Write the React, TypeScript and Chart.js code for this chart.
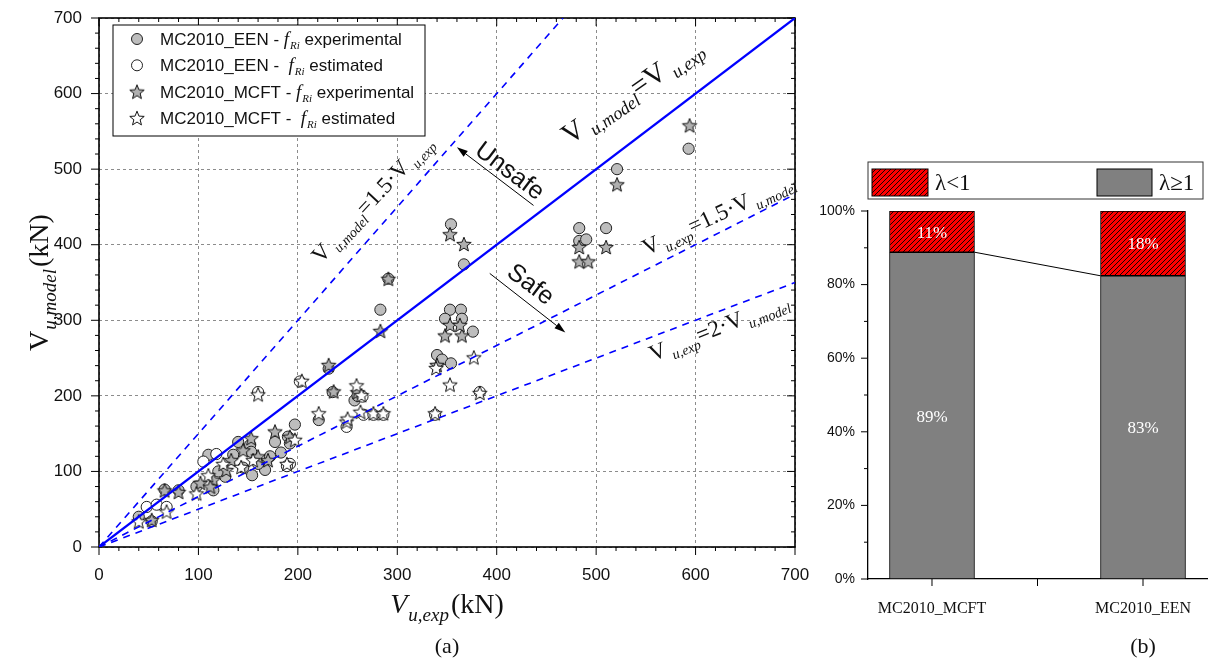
import React, { useEffect, useRef } from 'react';
import { Chart, registerables } from 'chart.js';

Chart.register(...registerables);

const SANS = '"Liberation Sans", Arial, sans-serif';
const SERIF = '"Liberation Serif", "Times New Roman", serif';

// ---------- Panel (a) data: [V_u,exp (kN), V_u,model (kN)] ----------
const EEN_EXPERIMENTAL: number[][] = [
  [593, 527], [521, 500], [510, 422], [483, 422], [483, 405], [490, 407], [354, 427], [367, 374],
  [283, 314], [291, 355], [353, 314], [364, 314], [348, 302], [365, 302], [376, 285], [340, 254],
  [345, 248], [354, 243], [235, 205], [257, 194], [260, 200], [197, 162], [221, 168], [231, 236],
  [190, 146], [177, 139], [192, 137], [152, 135], [140, 139], [153, 126], [110, 122], [127, 93],
  [154, 95], [167, 102], [98, 80], [115, 75], [80, 75], [66, 76], [40, 40], [53, 34], [160, 110],
  [135, 122], [145, 105], [120, 100], [172, 120], [183, 125],
];
const EEN_ESTIMATED: number[][] = [
  [160, 205], [249, 159], [338, 175], [383, 205], [266, 175], [276, 175], [286, 175], [202, 219],
  [192, 110], [105, 113], [118, 123], [48, 53], [58, 56], [68, 53], [265, 199], [189, 107],
];
const MCFT_EXPERIMENTAL: number[][] = [
  [594, 558], [521, 480], [510, 397], [483, 397], [483, 378], [492, 378], [353, 414], [367, 401],
  [291, 355], [283, 286], [348, 280], [365, 280], [353, 294], [363, 294], [340, 241], [231, 241],
  [236, 206], [153, 144], [177, 153], [192, 146], [133, 115], [128, 102], [115, 89], [80, 73],
  [66, 75], [53, 36], [145, 128], [160, 120], [102, 85], [112, 80], [170, 115], [260, 205],
];
const MCFT_ESTIMATED: number[][] = [
  [377, 251], [353, 215], [383, 204], [338, 177], [339, 237], [259, 214], [264, 201], [263, 179],
  [276, 177], [286, 177], [249, 166], [221, 177], [204, 220], [160, 202], [189, 110], [197, 142],
  [143, 106], [155, 115], [98, 71], [40, 34], [68, 47], [110, 95], [125, 110], [250, 170],
];

const AXIS_MIN = 0;
const AXIS_MAX = 700;
const MAJOR_STEP = 100;
const MINOR_STEP = 20;

// reference lines (end points)
const LINE_EQUAL: number[][] = [[0, 0], [700, 700]];
const LINE_MODEL_15: number[][] = [[0, 0], [466.7, 700]];
const LINE_EXP_15: number[][] = [[0, 0], [700, 466.7]];
const LINE_EXP_2: number[][] = [[0, 0], [700, 350]];

// ---------- Panel (b) data ----------
const BAR_CATEGORIES = ['MC2010_MCFT', 'MC2010_EEN'];
const SHARE_LAMBDA_GE1 = [88.8, 82.4];
const SHARE_LAMBDA_LT1 = [11.2, 17.6];
const LABEL_GE1 = ['89%', '83%'];
const LABEL_LT1 = ['11%', '18%'];
const PCT_MAX = 100;
const PCT_STEP = 20;
const PCT_MINOR = 10;

// ---------- helpers ----------
type Seg = { t: string; size: number; italic?: boolean; fam?: string; dy?: number; dx?: number };
const segFont = (s: Seg) => `${s.italic ? 'italic ' : ''}${s.size}px ${s.fam || SERIF}`;

function drawRich(ctx: CanvasRenderingContext2D, segs: Seg[], x: number, y: number, deg: number, align: 'center' | 'left' = 'center') {
  ctx.save();
  ctx.translate(x, y);
  ctx.rotate((deg * Math.PI) / 180);
  ctx.textAlign = 'left';
  ctx.textBaseline = 'alphabetic';
  let total = 0;
  for (const s of segs) {
    ctx.font = segFont(s);
    total += (s.dx || 0) + ctx.measureText(s.t).width;
  }
  let cx = align === 'center' ? -total / 2 : 0;
  for (const s of segs) {
    ctx.font = segFont(s);
    cx += s.dx || 0;
    ctx.fillText(s.t, cx, s.dy || 0);
    cx += ctx.measureText(s.t).width;
  }
  ctx.restore();
}

function seg(ctx: CanvasRenderingContext2D, x1: number, y1: number, x2: number, y2: number) {
  ctx.beginPath();
  ctx.moveTo(x1, y1);
  ctx.lineTo(x2, y2);
  ctx.stroke();
}

function arrow(ctx: CanvasRenderingContext2D, x1: number, y1: number, x2: number, y2: number) {
  ctx.save();
  ctx.strokeStyle = '#000';
  ctx.fillStyle = '#000';
  ctx.lineWidth = 1;
  const a = Math.atan2(y2 - y1, x2 - x1);
  const hl = 11;
  const hw = 3.5;
  const bx = x2 - hl * Math.cos(a);
  const by = y2 - hl * Math.sin(a);
  seg(ctx, x1, y1, bx, by);
  ctx.beginPath();
  ctx.moveTo(x2, y2);
  ctx.lineTo(bx + hw * Math.sin(a), by - hw * Math.cos(a));
  ctx.lineTo(bx - hw * Math.sin(a), by + hw * Math.cos(a));
  ctx.closePath();
  ctx.fill();
  ctx.restore();
}

function makeStar(fill: string) {
  const size = 18;
  const outer = 7.6;
  const inner = 3.3;
  const c = document.createElement('canvas');
  c.width = size;
  c.height = size;
  const g = c.getContext('2d')!;
  g.beginPath();
  for (let i = 0; i < 10; i++) {
    const r = i % 2 === 0 ? outer : inner;
    const a = -Math.PI / 2 + (i * Math.PI) / 5;
    const px = size / 2 + r * Math.cos(a);
    const py = size / 2 + 0.8 + r * Math.sin(a);
    if (i === 0) g.moveTo(px, py);
    else g.lineTo(px, py);
  }
  g.closePath();
  g.fillStyle = fill;
  g.fill();
  g.lineWidth = 1;
  g.strokeStyle = '#111';
  g.stroke();
  return c;
}

const toXY = (arr: number[][]) => arr.map(([x, y]) => ({ x, y }));

const GREY = '#bdbdbd';

export default function App() {
  const leftRef = useRef<HTMLCanvasElement>(null);
  const rightRef = useRef<HTMLCanvasElement>(null);

  useEffect(() => {
    document.body.style.margin = '0';
    const starGrey = makeStar('#b0b0b0');
    const starWhite = makeStar('#ffffff');

    // -------- left chart plugin --------
    const leftDeco = {
      id: 'leftDeco',
      beforeDatasetsDraw(chart: any) {
        const { ctx, chartArea: a, scales } = chart;
        const x = scales.x;
        const y = scales.y;
        ctx.save();
        ctx.strokeStyle = '#000';
        ctx.lineWidth = 1;
        for (let v = AXIS_MIN; v <= AXIS_MAX; v += MINOR_STEP) {
          const len = v % MAJOR_STEP === 0 ? 8 : 4;
          const px = x.getPixelForValue(v);
          seg(ctx, px, a.bottom, px, a.bottom + len);
          seg(ctx, px, a.top, px, a.top + len);
          const py = y.getPixelForValue(v);
          seg(ctx, a.left - len, py, a.left, py);
          seg(ctx, a.right - len, py, a.right, py);
        }
        ctx.lineWidth = 1.6;
        ctx.strokeRect(a.left, a.top, a.right - a.left, a.bottom - a.top);
        ctx.restore();
      },
      afterDatasetsDraw(chart: any) {
        const { ctx, chartArea: a, scales } = chart;
        const X = (v: number) => scales.x.getPixelForValue(v);
        const Y = (v: number) => scales.y.getPixelForValue(v);
        ctx.save();
        ctx.fillStyle = '#111';
        // line labels
        drawRich(ctx, [
          { t: 'V', size: 29 },
          { t: 'u,model', size: 18, italic: true, dy: 7, dx: 5 },
          { t: '=V', size: 29 },
          { t: 'u,exp', size: 18, italic: true, dy: 7, dx: 5 },
        ], X(541), Y(594), -35);
        drawRich(ctx, [
          { t: 'V', size: 23 },
          { t: 'u,model', size: 14, italic: true, dy: 6, dx: 4 },
          { t: '=1.5·V', size: 23 },
          { t: 'u,exp', size: 14, italic: true, dy: 6, dx: 4 },
        ], X(280), Y(454), -47);
        drawRich(ctx, [
          { t: 'V', size: 23 },
          { t: 'u,exp', size: 14, italic: true, dy: 6, dx: 4 },
          { t: '=1.5·V', size: 23 },
          { t: 'u,model', size: 14, italic: true, dy: 6, dx: 4 },
        ], X(626), Y(432), -25);
        drawRich(ctx, [
          { t: 'V', size: 23 },
          { t: 'u,exp', size: 14, italic: true, dy: 6, dx: 4 },
          { t: '=2·V', size: 23 },
          { t: 'u,model', size: 14, italic: true, dy: 6, dx: 4 },
        ], X(626), Y(282), -22);
        // safe / unsafe
        drawRich(ctx, [{ t: 'Unsafe', size: 25, fam: SANS, dy: 9 }], X(414), Y(499), 37);
        drawRich(ctx, [{ t: 'Safe', size: 25, fam: SANS, dy: 9 }], X(435), Y(349), 37);
        arrow(ctx, X(437), Y(452), X(360), Y(529));
        arrow(ctx, X(393), Y(362), X(469), Y(284));

        // legend
        const lx = a.left + 14;
        const ly = a.top + 7;
        const lw = 312;
        const lh = 111;
        ctx.fillStyle = '#fff';
        ctx.fillRect(lx, ly, lw, lh);
        ctx.strokeStyle = '#000';
        ctx.lineWidth = 1;
        ctx.strokeRect(lx, ly, lw, lh);
        const rows = [
          { m: 'cg', name: 'MC2010_EEN - ', tail: ' experimental' },
          { m: 'cw', name: 'MC2010_EEN -  ', tail: ' estimated' },
          { m: 'sg', name: 'MC2010_MCFT - ', tail: ' experimental' },
          { m: 'sw', name: 'MC2010_MCFT -  ', tail: ' estimated' },
        ];
        rows.forEach((r, i) => {
          const cy = ly + 14 + i * 26.3;
          const mx = lx + 24;
          if (r.m[0] === 'c') {
            ctx.beginPath();
            ctx.arc(mx, cy, 5.5, 0, Math.PI * 2);
            ctx.fillStyle = r.m === 'cg' ? GREY : '#fff';
            ctx.fill();
            ctx.strokeStyle = '#222';
            ctx.stroke();
          } else {
            const img = r.m === 'sg' ? starGrey : starWhite;
            ctx.drawImage(img, mx - img.width / 2, cy - img.height / 2);
          }
          ctx.fillStyle = '#111';
          drawRich(ctx, [
            { t: r.name, size: 17, fam: SANS },
            { t: 'f', size: 19, italic: true },
            { t: 'Ri', size: 11, italic: true, dy: 4, dx: 1 },
            { t: r.tail, size: 17, fam: SANS },
          ], lx + 47, cy + 6, 0, 'left');
        });
        ctx.restore();
      },
      afterDraw(chart: any) {
        const { ctx, chartArea: a } = chart;
        ctx.save();
        ctx.fillStyle = '#111';
        const midX = (a.left + a.right) / 2;
        const midY = (a.top + a.bottom) / 2;
        drawRich(ctx, [
          { t: 'V', size: 28, italic: true },
          { t: 'u,exp', size: 19, italic: true, dy: 8, dx: 1 },
          { t: '(kN)', size: 28, dx: 2 },
        ], midX, a.bottom + 66, 0);
        drawRich(ctx, [
          { t: 'V', size: 28 },
          { t: 'u,model', size: 19, italic: true, dy: 8, dx: 1 },
          { t: '(kN)', size: 28, dx: 2 },
        ], 48, midY, -90);
        drawRich(ctx, [{ t: '(a)', size: 22 }], midX, a.bottom + 106, 0);
        ctx.restore();
      },
    };

    const lineDs = (pts: number[][], dashed: boolean) => ({
      data: toXY(pts),
      showLine: true,
      pointRadius: 0,
      borderColor: '#0000ff',
      borderWidth: dashed ? 1.6 : 2.2,
      borderDash: dashed ? [7, 6] : [],
      fill: false,
      order: 0,
    });

    const axisCommon = (isX: boolean) => ({
      type: 'linear' as const,
      min: AXIS_MIN,
      max: AXIS_MAX,
      ticks: {
        stepSize: MAJOR_STEP,
        font: { family: SANS, size: 17 },
        color: '#111',
        padding: isX ? 18 : 17,
        maxRotation: 0,
      },
      grid: { color: '#8c8c8c', drawTicks: false, lineWidth: 1 },
      border: { display: false, dash: [3, 3] },
      afterFit: (s: any) => {
        if (isX) s.height = 112;
        else s.width = 99;
        s.paddingLeft = 0;
        s.paddingRight = 0;
        s.paddingTop = 0;
        s.paddingBottom = 0;
      },
    });

    const left = new Chart(leftRef.current!, {
      type: 'scatter',
      data: {
        datasets: [
          lineDs(LINE_EQUAL, false),
          lineDs(LINE_MODEL_15, true),
          lineDs(LINE_EXP_15, true),
          lineDs(LINE_EXP_2, true),
          { data: toXY(MCFT_ESTIMATED), pointStyle: starWhite, pointRadius: 8, order: 1 },
          { data: toXY(MCFT_EXPERIMENTAL), pointStyle: starGrey, pointRadius: 8, order: 2 },
          { data: toXY(EEN_ESTIMATED), pointStyle: 'circle', pointRadius: 5.6, backgroundColor: '#fff', borderColor: '#222', borderWidth: 1, order: 3 },
          { data: toXY(EEN_EXPERIMENTAL), pointStyle: 'circle', pointRadius: 5.6, backgroundColor: GREY, borderColor: '#222', borderWidth: 1, order: 4 },
        ] as any,
      },
      options: {
        responsive: false,
        animation: false,
        layout: { padding: { left: 0, right: 15, top: 18, bottom: 0 } },
        plugins: { legend: { display: false }, tooltip: { enabled: false } },
        scales: { x: axisCommon(true), y: axisCommon(false) } as any,
      },
      plugins: [leftDeco],
    });

    // -------- right chart --------
    const rctx = rightRef.current!.getContext('2d')!;
    const tile = document.createElement('canvas');
    tile.width = 5;
    tile.height = 5;
    const tg = tile.getContext('2d')!;
    tg.fillStyle = '#ff0000';
    tg.fillRect(0, 0, 5, 5);
    tg.strokeStyle = '#000';
    tg.lineWidth = 0.9;
    tg.beginPath();
    tg.moveTo(0, 5); tg.lineTo(5, 0);
    tg.moveTo(-1, 1); tg.lineTo(1, -1);
    tg.moveTo(4, 6); tg.lineTo(6, 4);
    tg.stroke();
    const hatch = rctx.createPattern(tile, 'repeat')!;

    const catIdx = BAR_CATEGORIES.map((_, i) => i);
    const X_PAD = 0.3033;

    const rightDeco = {
      id: 'rightDeco',
      afterDatasetsDraw(chart: any) {
        const { ctx, chartArea: a, scales } = chart;
        const x = scales.x;
        const y = scales.y;
        ctx.save();
        const m0 = chart.getDatasetMeta(0).data;
        const m1 = chart.getDatasetMeta(1).data;
        // connector line
        ctx.strokeStyle = '#000';
        ctx.lineWidth = 1;
        seg(ctx, m0[0].x + m0[0].width / 2, m0[0].y, m0[1].x - m0[1].width / 2, m0[1].y);
        // value labels
        ctx.fillStyle = '#fff';
        m0.forEach((el: any, i: number) => {
          drawRich(ctx, [{ t: LABEL_GE1[i], size: 17 }], el.x, (el.y + el.base) / 2 + 6, 0);
        });
        m1.forEach((el: any, i: number) => {
          drawRich(ctx, [{ t: LABEL_LT1[i], size: 17 }], el.x, (el.y + el.base) / 2 + 6, 0);
        });
        // ticks
        ctx.strokeStyle = '#000';
        for (let v = 0; v <= PCT_MAX; v += PCT_MINOR) {
          const len = v % PCT_STEP === 0 ? 7 : 4;
          const py = y.getPixelForValue(v);
          seg(ctx, a.left - len, py, a.left, py);
        }
        const xt = [...catIdx, (catIdx[0] + catIdx[1]) / 2];
        xt.forEach((v) => {
          const px = x.getPixelForValue(v);
          seg(ctx, px, a.bottom, px, a.bottom + 7);
        });
        // legend
        const lx = a.left;
        const ly = a.top - 49;
        ctx.fillStyle = '#fff';
        ctx.fillRect(lx, ly, 335, 37);
        ctx.strokeStyle = '#333';
        ctx.strokeRect(lx, ly, 335, 37);
        ctx.fillStyle = hatch;
        ctx.fillRect(lx + 4, ly + 7, 56, 27);
        ctx.strokeStyle = '#000';
        ctx.strokeRect(lx + 4, ly + 7, 56, 27);
        ctx.fillStyle = '#808080';
        ctx.fillRect(lx + 229, ly + 7, 55, 27);
        ctx.strokeRect(lx + 229, ly + 7, 55, 27);
        ctx.fillStyle = '#111';
        drawRich(ctx, [{ t: 'λ<1', size: 23 }], lx + 67, ly + 28, 0, 'left');
        drawRich(ctx, [{ t: 'λ≥1', size: 23 }], lx + 291, ly + 28, 0, 'left');
        // (b)
        drawRich(ctx, [{ t: '(b)', size: 22 }], x.getPixelForValue(catIdx[1]), a.bottom + 74, 0);
        ctx.restore();
      },
    };

    const right = new Chart(rightRef.current!, {
      type: 'bar',
      data: {
        datasets: [
          {
            data: catIdx.map((i) => ({ x: i, y: SHARE_LAMBDA_GE1[i] })),
            backgroundColor: '#808080',
            borderColor: '#000',
            borderWidth: 1,
            borderSkipped: false,
            barThickness: 85,
          },
          {
            data: catIdx.map((i) => ({ x: i, y: SHARE_LAMBDA_LT1[i] })),
            backgroundColor: hatch,
            borderColor: '#000',
            borderWidth: 1,
            borderSkipped: false,
            barThickness: 85,
          },
        ] as any,
      },
      options: {
        responsive: false,
        animation: false,
        layout: { padding: { left: 0, right: 11, top: 211, bottom: 0 } },
        plugins: { legend: { display: false }, tooltip: { enabled: false } },
        scales: {
          x: {
            type: 'linear',
            stacked: true,
            offset: false,
            bounds: 'data',
            grace: 0,
            min: catIdx[0] - X_PAD,
            max: catIdx[catIdx.length - 1] + X_PAD,
            afterBuildTicks: (s: any) => {
              s.ticks = catIdx.map((v) => ({ value: v }));
            },
            ticks: {
              callback: (v: any) => BAR_CATEGORIES[Math.round(Number(v))] ?? '',
              font: { family: SERIF, size: 16 },
              color: '#111',
              padding: 20,
              maxRotation: 0,
              autoSkip: false,
            },
            grid: { display: false, drawTicks: false, offset: false },
            border: { display: true, color: '#000', width: 1.3 },
            afterFit: (s: any) => {
              s.height = 80;
              s.paddingLeft = 0;
              s.paddingRight = 0;
            },
          },
          y: {
            stacked: true,
            min: 0,
            max: PCT_MAX,
            ticks: {
              stepSize: PCT_STEP,
              callback: (v: any) => `${v}%`,
              font: { family: SANS, size: 14 },
              color: '#111',
              padding: 13,
            },
            grid: { display: false, drawTicks: false },
            border: { display: true, color: '#000', width: 1.3 },
            afterFit: (s: any) => {
              s.width = 58;
              s.paddingTop = 0;
              s.paddingBottom = 0;
            },
          },
        } as any,
      },
      plugins: [rightDeco],
    });

    return () => {
      left.destroy();
      right.destroy();
    };
  }, []);

  return (
    <div style={{ position: 'absolute', left: 0, top: 0, width: 1218, height: 659, background: '#fff' }}>
      <canvas ref={leftRef} width={810} height={659} style={{ position: 'absolute', left: 0, top: 0, width: 810, height: 659 }} />
      <canvas ref={rightRef} width={408} height={659} style={{ position: 'absolute', left: 810, top: 0, width: 408, height: 659 }} />
    </div>
  );
}
